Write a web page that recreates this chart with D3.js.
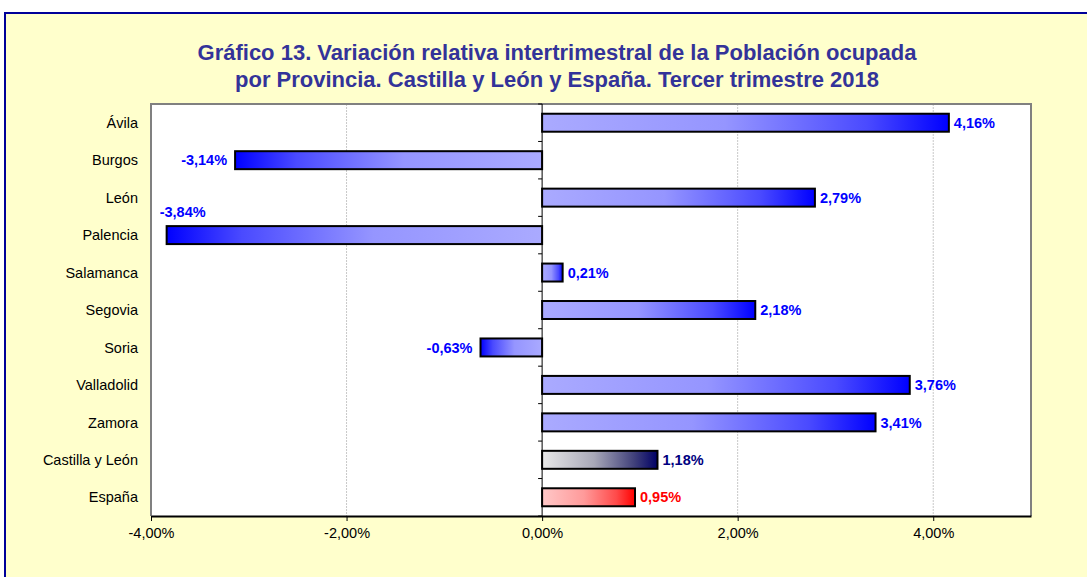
<!DOCTYPE html>
<html>
<head>
<meta charset="utf-8">
<script src="https://cdn.jsdelivr.net/npm/d3@7"></script>
<style>
  html, body { margin: 0; padding: 0; background: #ffffff; }
  svg { display: block; }
  text { font-family: Arial, "Liberation Sans", sans-serif; }
</style>
</head>
<body>
<svg id="chart" width="1087" height="577"></svg>
<script>
const titleLines = [
  "Gráfico 13. Variación relativa intertrimestral de la Población ocupada",
  "por Provincia. Castilla y León y España. Tercer trimestre 2018"
];
const categories = ["Ávila", "Burgos", "León", "Palencia", "Salamanca", "Segovia", "Soria", "Valladolid", "Zamora", "Castilla y León", "España"];
const values = [4.16, -3.14, 2.79, -3.84, 0.21, 2.18, -0.63, 3.76, 3.41, 1.18, 0.95];
const valueLabels = ["4,16%", "-3,14%", "2,79%", "-3,84%", "0,21%", "2,18%", "-0,63%", "3,76%", "3,41%", "1,18%", "0,95%"];
const seriesKind = ["prov", "prov", "prov", "prov", "prov", "prov", "prov", "prov", "prov", "cyl", "esp"];
const tickValues = [-4, -2, 0, 2, 4];
const tickLabels = ["-4,00%", "-2,00%", "0,00%", "2,00%", "4,00%"];
const xDomain = [-4, 5];

const svg = d3.select("#chart");
const W = 1087, H = 577;

// chart area
svg.append("rect").attr("x", 5).attr("y", 13).attr("width", W + 20).attr("height", H + 20)
  .attr("fill", "#FFFFCC").attr("stroke", "#000099").attr("stroke-width", 2);

// title
const title = svg.append("text").attr("text-anchor", "middle")
  .attr("fill", "#333399").attr("font-weight", "bold").attr("font-size", "22px");
title.selectAll("tspan").data(titleLines).join("tspan")
  .attr("x", 557).attr("y", (d, i) => 59.5 + i * 27.5).text(d => d);

const plot = { left: 151, right: 1031, top: 104, bottom: 516 };
const x = d3.scaleLinear().domain(xDomain).range([plot.left, plot.right]);
const y = d3.scaleBand().domain(categories).range([plot.top, plot.bottom])
  .paddingInner(0.52).paddingOuter(0.26);

// plot background
svg.append("rect").attr("x", plot.left).attr("y", plot.top)
  .attr("width", plot.right - plot.left).attr("height", plot.bottom - plot.top)
  .attr("fill", "#ffffff");

// gridlines
svg.append("g").selectAll("line").data(tickValues.filter(v => v !== 0 && v !== xDomain[0])).join("line")
  .attr("x1", d => x(d)).attr("x2", d => x(d))
  .attr("y1", plot.top).attr("y2", plot.bottom)
  .attr("stroke", "#c8c8c8").attr("stroke-width", 1).attr("stroke-dasharray", "2,1");

// plot border (gray)
svg.append("path")
  .attr("d", `M${plot.left},${plot.bottom} V${plot.top} H${plot.right} V${plot.bottom}`)
  .attr("fill", "none").attr("stroke", "#808080").attr("stroke-width", 2);

// gradients
const defs = svg.append("defs");
const gradSpec = {
  prov: [["0%", "#AAAAFF"], ["45%", "#9595FF"], ["80%", "#4A4AFF"], ["100%", "#0000FF"]],
  cyl: [["0%", "#E8E8E8"], ["45%", "#A8A8B8"], ["80%", "#40407A"], ["100%", "#000066"]],
  esp: [["0%", "#FFC8C8"], ["45%", "#FF9A9A"], ["80%", "#FF4A4A"], ["100%", "#FF0000"]]
};
["pos", "neg"].forEach(dir => {
  Object.entries(gradSpec).forEach(([k, stops]) => {
    const g = defs.append("linearGradient").attr("id", `g-${k}-${dir}`)
      .attr("x1", dir === "pos" ? 0 : 1).attr("x2", dir === "pos" ? 1 : 0)
      .attr("y1", 0).attr("y2", 0);
    stops.forEach(s => g.append("stop").attr("offset", s[0]).attr("stop-color", s[1]));
  });
});

const data = categories.map((c, i) => ({ c, v: values[i], label: valueLabels[i], kind: seriesKind[i] }));

// bars
svg.append("g").selectAll("rect").data(data).join("rect")
  .attr("x", d => x(Math.min(0, d.v)))
  .attr("y", d => y(d.c))
  .attr("width", d => Math.abs(x(d.v) - x(0)))
  .attr("height", y.bandwidth())
  .attr("fill", d => `url(#g-${d.kind}-${d.v >= 0 ? "pos" : "neg"})`)
  .attr("stroke", "#000").attr("stroke-width", 2);

// y axis line at zero with ticks at band boundaries
const yAxisG = svg.append("g");
yAxisG.append("line").attr("x1", x(0)).attr("x2", x(0)).attr("y1", plot.top).attr("y2", plot.bottom)
  .attr("stroke", "#000").attr("stroke-width", 1);
const step = y.step();
const boundaries = d3.range(categories.length + 1).map(i => plot.top + i * step);
yAxisG.selectAll("line.t").data(boundaries).join("line").attr("class", "t")
  .attr("x1", x(0) - 4).attr("x2", x(0)).attr("y1", d => d).attr("y2", d => d)
  .attr("stroke", "#000").attr("stroke-width", 1);

// category labels
svg.append("g").selectAll("text").data(categories).join("text")
  .attr("x", 138).attr("y", d => y(d) + y.bandwidth() / 2).attr("dy", "0.36em")
  .attr("text-anchor", "end").attr("font-size", "14.5px").attr("fill", "#000")
  .text(d => d);

// x axis
const xAxis = d3.axisBottom(x).tickValues(tickValues).tickFormat((d, i) => tickLabels[i])
  .tickSize(5).tickSizeOuter(0);
const xg = svg.append("g").attr("transform", `translate(0,${plot.bottom})`).call(xAxis);
xg.select(".domain").attr("stroke", "#000").attr("stroke-width", 2);
xg.selectAll(".tick line").attr("stroke", "#000");
xg.selectAll(".tick text").attr("font-size", "14.5px").attr("fill", "#000")
  .attr("font-family", "Arial, 'Liberation Sans', sans-serif").attr("y", 12).attr("dy", "0.71em");

// value labels
const labelColor = { prov: "#0000FF", cyl: "#000080", esp: "#FF0000" };
svg.append("g").selectAll("text").data(data).join("text")
  .attr("font-size", "14.5px").attr("font-weight", "bold")
  .attr("fill", d => labelColor[d.kind])
  .attr("text-anchor", d => d.c === "Palencia" ? "middle" : (d.v >= 0 ? "start" : "end"))
  .attr("x", d => {
    if (d.c === "Palencia") return x(d.v) + 16;
    return d.v >= 0 ? x(d.v) + 5 : x(d.v) - 8;
  })
  .attr("y", d => {
    const cy = y(d.c) + y.bandwidth() / 2;
    return d.c === "Palencia" ? cy - 23 : cy;
  })
  .attr("dy", "0.36em")
  .text(d => d.label);
</script>
</body>
</html>
